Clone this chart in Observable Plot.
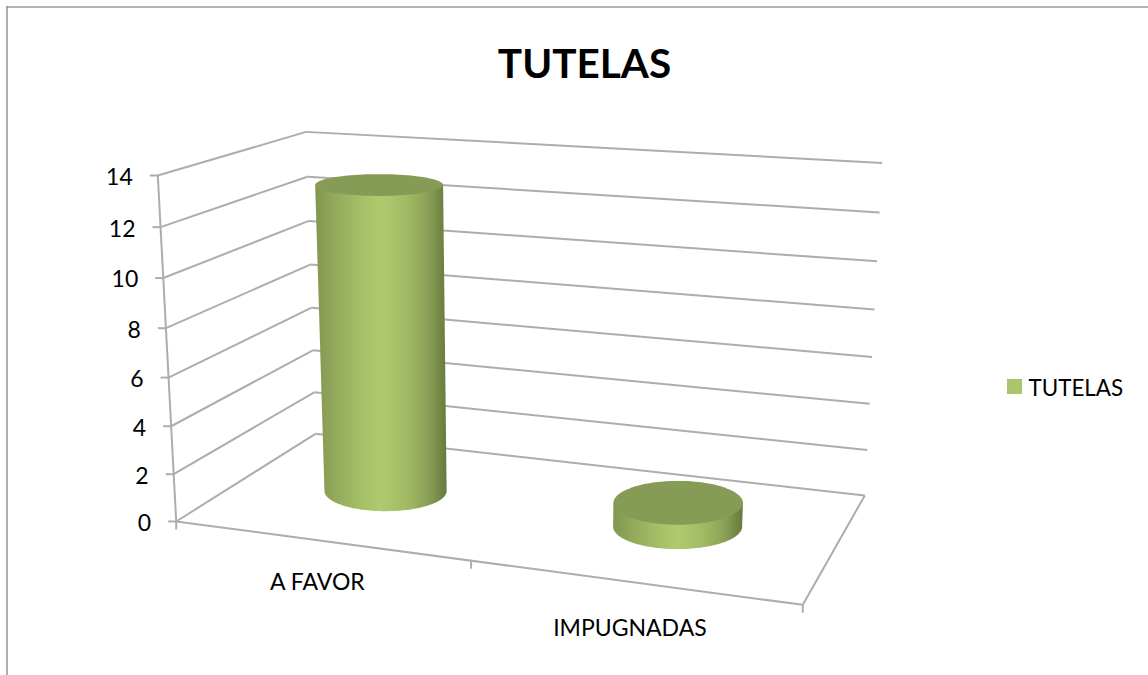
<!DOCTYPE html>
<html><head><meta charset="utf-8">
<script src="https://cdn.jsdelivr.net/npm/d3@7"></script>
<script src="https://cdn.jsdelivr.net/npm/@observablehq/plot@0.6"></script>
<style>html,body{margin:0;padding:0;background:#fff;overflow:hidden}svg{display:block}</style>
</head><body><div id="chart"></div>
<script>
const categories = ["A FAVOR", "IMPUGNADAS"];
const values = [13, 1];
const yTicks = [0, 2, 4, 6, 8, 10, 12, 14];
const seriesName = "TUTELAS";

// 3D view of the chart box: floor corners, top corner, vanishing point of verticals
const view = {A:[175.7,521], B:[802.3,604.3], C:[315,433.3], D:[864.3,495], E:[157.3,175], V:[522,7035], vMax:14, uMax:2};
const R = {u:0.215, w:0.22};
const labelDrop = [42, 47];

const dx1=view.B[0]-view.D[0], dx2=view.C[0]-view.D[0], sx=view.A[0]-view.B[0]+view.D[0]-view.C[0];
const dy1=view.B[1]-view.D[1], dy2=view.C[1]-view.D[1], sy=view.A[1]-view.B[1]+view.D[1]-view.C[1];
const det=dx1*dy2-dx2*dy1, g=(sx*dy2-dx2*sy)/det, h=(dx1*sy-sx*dy1)/det;
const a=view.B[0]-view.A[0]+g*view.B[0], b=view.C[0]-view.A[0]+h*view.C[0], c=view.A[0];
const d=view.B[1]-view.A[1]+g*view.B[1], e=view.C[1]-view.A[1]+h*view.C[1], f=view.A[1];
const tv=(view.E[1]-view.A[1])/(view.V[1]-view.A[1]), qMax=tv/(1-tv);
function project(u,w,v){
  const s=u/view.uMax, q=qMax*v/view.vMax;
  const X=a*s+b*w+c+q*view.V[0], Y=d*s+e*w+f+q*view.V[1], W=g*s+h*w+1+q;
  return [X/W,Y/W];
}
const seg=(p,q,o={})=>({x1:p[0],y1:p[1],x2:q[0],y2:q[1],...o});

// walls and floor
const lines=[];
for(const v of yTicks){
  lines.push(seg(project(0,0,v),project(0,1,v)));
  lines.push(seg(project(0,1,v),project(view.uMax,1,v)));
  const p=project(0,0,v);
  lines.push(seg(p,[p[0]-8,p[1]]));
}
lines.push(seg(project(0,0,0),project(0,0,view.vMax)));
lines.push(seg(project(0,0,0),project(view.uMax,0,0)));
lines.push(seg(project(view.uMax,0,0),project(view.uMax,1,0)));
d3.range(0,view.uMax+1).forEach(u=>{const p=project(u,0,0);lines.push(seg(p,[p[0],p[1]+8]));});

// cylinders: upright ellipses sized by the projected radii at that height
const N=96;
function ring(cu,v){
  const ctr=project(cu,0.5,v), ru=1+(cu-1)*0.5;
  const rx=(project(ru+R.u,0.5,v)[0]-project(ru-R.u,0.5,v)[0])/2;
  const ry=(project(cu,0.5-R.w,v)[1]-project(cu,0.5+R.w,v)[1])/2;
  return {ctr,rx,ry,at:t=>[ctr[0]+rx*Math.cos(t),ctr[1]+ry*Math.sin(t)]};
}
const bodies=[],tops=[];
values.forEach((val,i)=>{
  const cu=i+0.5, bot=ring(cu,0), top=ring(cu,val);
  const poly=d3.range(N+1).map(k=>bot.at(Math.PI*k/N));   // front of the base, right to left
  poly.push([top.ctr[0]-top.rx,top.ctr[1]],[top.ctr[0]+top.rx,top.ctr[1]]);
  poly.reverse();
  poly.forEach(p=>bodies.push({cat:categories[i],x:p[0],y:p[1]}));
  d3.range(N).forEach(k=>{const p=top.at(2*Math.PI*k/N);tops.push({cat:categories[i],x:p[0],y:p[1]});});
});

const defs=()=>{
  const s=d3.create("svg:defs");
  const gr=s.append("linearGradient").attr("id","cyl").attr("x1",0).attr("x2",1).attr("y1",0).attr("y2",0);
  [[0,"#82964f"],[0.15,"#93a95c"],[0.35,"#a5bf66"],[0.5,"#afca6e"],[0.68,"#a3bc65"],[0.85,"#8da257"],[1,"#667a3c"]]
    .forEach(([o,c])=>gr.append("stop").attr("offset",o).attr("stop-color",c));
  return s.node();
};

const yLabels=yTicks.map(v=>{const p=project(0,0,v);return {t:String(v),x:p[0]-25,y:p[1]+2};});
const xLabels=categories.map((t,i)=>{const p=project(i+0.5,0,0);return {t,x:p[0]-2,y:p[1]+labelDrop[i]};});
const font="Lato, Carlito, sans-serif";

const chart=Plot.plot({
  width:1148,height:675,margin:0,
  style:{background:"#fff",fontFamily:font},
  x:{type:"identity",axis:null},y:{type:"identity",axis:null},
  marks:[
    defs,
    Plot.ruleX([6.5],{y1:6,y2:675,stroke:"#9b9b9b",strokeWidth:1.6}),
    Plot.ruleY([6.5],{x1:6,x2:1148,stroke:"#9b9b9b",strokeWidth:1.6}),
    Plot.link(lines,{x1:"x1",y1:"y1",x2:"x2",y2:"y2",stroke:"#adadad",strokeWidth:2}),
    Plot.line(bodies,{x:"x",y:"y",z:"cat",fill:"url(#cyl)",stroke:null}),
    Plot.line(tops,{x:"x",y:"y",z:"cat",fill:"#869b55",stroke:null}),
    Plot.text(yLabels,{x:"x",y:"y",text:"t",textAnchor:"end",fontSize:23,fill:"#000"}),
    Plot.text(xLabels,{x:"x",y:"y",text:"t",fontSize:23,fill:"#000"}),
    Plot.text([seriesName],{x:()=>584,y:()=>65,text:d=>d,fontSize:40.5,fontWeight:700,fill:"#000"}),
    Plot.rect([seriesName],{x1:()=>1007,x2:()=>1022,y1:()=>379,y2:()=>394,fill:"#abc56d"}),
    Plot.text([seriesName],{x:()=>1028,y:()=>388,text:d=>d,textAnchor:"start",fontSize:22.4,fill:"#000"})
  ]
});
document.getElementById("chart").append(chart);
</script></body></html>
